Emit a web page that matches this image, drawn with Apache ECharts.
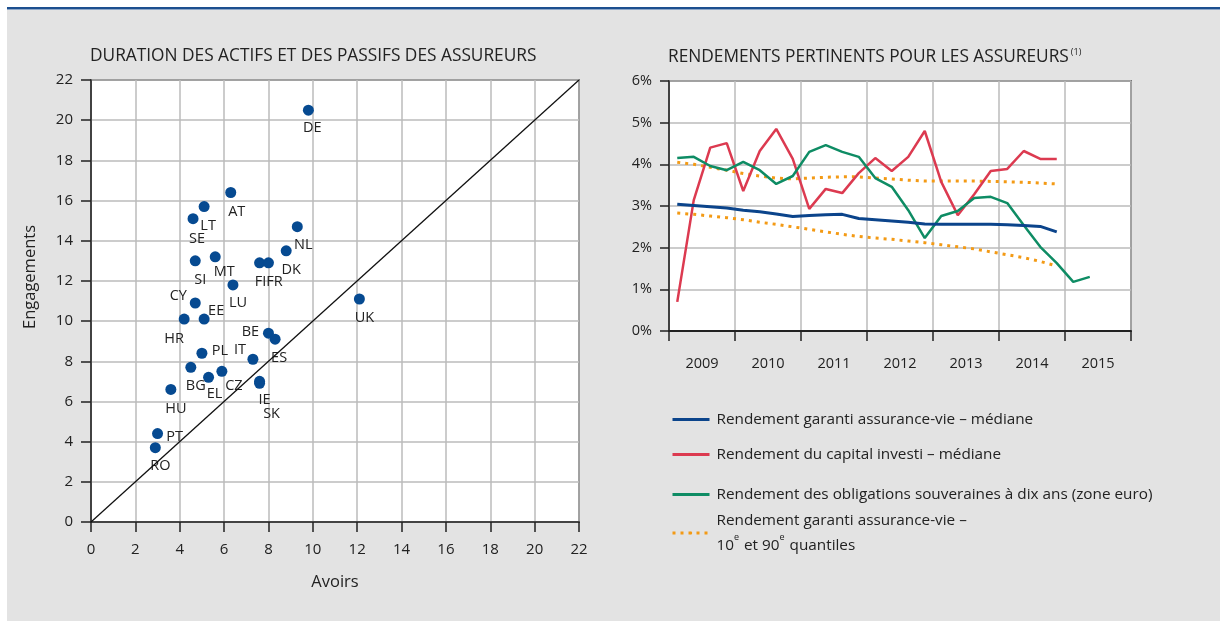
<!DOCTYPE html>
<html>
<head>
<meta charset="utf-8">
<script src="https://cdn.jsdelivr.net/npm/echarts@6/dist/echarts.min.js"></script>
<style>
	html, body { margin: 0; padding: 0; background: #fff; }
	#chart { width: 1220px; height: 628px; }
</style>
</head>
<body>
<div id="chart"></div>
<script>
// duration des actifs et passifs (gauche)
const countries = ['DE', 'AT', 'LT', 'SE', 'NL', 'DK', 'SI', 'MT', 'FI', 'FR', 'LU', 'CY', 'HR', 'EE', 'BE', 'ES', 'PL', 'IT', 'BG', 'CZ', 'EL', 'IE', 'SK', 'HU', 'PT', 'RO', 'UK']
const avoirs = [9.8, 6.3, 5.1, 4.6, 9.3, 8.8, 4.7, 5.6, 7.6, 8.0, 6.4, 4.7, 4.2, 5.1, 8.0, 8.3, 5.0, 7.3, 4.5, 5.9, 5.3, 7.6, 7.6, 3.6, 3.0, 2.9, 12.1]
const engagements = [20.5, 16.4, 15.7, 15.1, 14.7, 13.5, 13.0, 13.2, 12.9, 12.9, 11.8, 10.9, 10.1, 10.1, 9.4, 9.1, 8.4, 8.1, 7.7, 7.5, 7.2, 7.0, 6.9, 6.6, 4.4, 3.7, 11.1]
const scatterTicks = [0, 2, 4, 6, 8, 10, 12, 14, 16, 18, 20, 22]

// rendements (droite), données trimestrielles
const years = ['2009', '2010', '2011', '2012', '2013', '2014', '2015']
const quarters = []
years.forEach(y => ['T1', 'T2', 'T3', 'T4'].forEach(q => quarters.push(y + ' ' + q)))
const garantiMediane = [3.04, 3.01, 2.98, 2.95, 2.90, 2.86, 2.81, 2.75, 2.77, 2.79, 2.80, 2.70, 2.67, 2.64, 2.61, 2.57, 2.56, 2.56, 2.56, 2.56, 2.55, 2.53, 2.51, 2.38]
const capitalInvesti = [0.70, 3.14, 4.40, 4.51, 3.36, 4.32, 4.85, 4.13, 2.93, 3.41, 3.31, 3.79, 4.15, 3.84, 4.18, 4.80, 3.58, 2.78, 3.28, 3.84, 3.89, 4.32, 4.13, 4.13]
const obligations = [4.15, 4.18, 3.96, 3.86, 4.06, 3.86, 3.53, 3.72, 4.30, 4.46, 4.30, 4.18, 3.67, 3.46, 2.90, 2.23, 2.76, 2.88, 3.19, 3.22, 3.07, 2.54, 2.02, 1.63, 1.18, 1.30]
const quantile90 = [4.05, 4.00, 3.93, 3.86, 3.78, 3.72, 3.67, 3.65, 3.67, 3.69, 3.70, 3.70, 3.67, 3.65, 3.62, 3.60, 3.60, 3.60, 3.60, 3.59, 3.58, 3.57, 3.55, 3.53]
const quantile10 = [2.83, 2.80, 2.76, 2.72, 2.67, 2.61, 2.56, 2.50, 2.44, 2.38, 2.32, 2.27, 2.23, 2.20, 2.16, 2.12, 2.07, 2.02, 1.97, 1.90, 1.83, 1.76, 1.67, 1.56]

// décalage des étiquettes pays (px)
const labelOffsets = {
	DE: [4, 18], AT: [6, 19], LT: [4, 19], SE: [4, 20], NL: [6, 18], DK: [5, 19],
	SI: [5, 19], MT: [9, 15], FI: [1, 19], FR: [6, 19], LU: [5, 18], CY: [-17, -7],
	HR: [-10, 20], EE: [12, -8], BE: [-18, -1], ES: [4, 19], PL: [18, -2], IT: [-13, -9],
	BG: [5, 19], CZ: [12, 15], EL: [6, 17], IE: [5, 19], SK: [12, 31], HU: [5, 19],
	PT: [17, 3], RO: [5, 18], UK: [5, 19],
}

const FONT = "'Open Sans', sans-serif"
const TXT = '#222'
const GRID_LINE = { show: true, lineStyle: { color: '#bbb', width: 1.5 } }

const NAMES = {
	garanti: 'Rendement garanti assurance-vie – médiane',
	capital: 'Rendement du capital investi – médiane',
	oblig: 'Rendement des obligations souveraines à dix ans (zone euro)',
	quant: 'quantiles',
}

const chart = echarts.init(document.getElementById('chart'))

const scatterData = countries.map((c, i) => ({
	name: c,
	value: [avoirs[i], engagements[i]],
	label: { offset: labelOffsets[c] },
}))

function legendAt(name, top, formatter) {
	return {
		data: [name],
		left: 666,
		top: top,
		orient: 'vertical',
		itemWidth: 37,
		itemHeight: 3,
		selectedMode: false,
		lineStyle: { width: 3 },
		textStyle: {
			fontFamily: FONT, fontSize: 15.3, color: TXT, padding: [0, 0, 0, 2],
			lineHeight: 25,
			rich: { sup: { fontSize: 9, verticalAlign: 'top', padding: [0, 1, 5, 0], lineHeight: 14, fontFamily: FONT, color: TXT } },
		},
		formatter: formatter || (n => n),
	}
}

const option = {
	backgroundColor: '#fff',
	animation: false,
	graphic: [
		{ type: 'rect', shape: { x: 7, y: 10, width: 1213, height: 611 }, style: { fill: '#e3e3e3' }, z: -10 },
		{ type: 'rect', shape: { x: 7, y: 7, width: 1213, height: 2.5 }, style: { fill: '#1c4f8f' }, z: -9 },
		{ type: 'text', x: 335, y: 582, style: { text: 'Avoirs', font: '16.5px ' + FONT, fill: TXT, align: 'center', verticalAlign: 'middle' } },
		{ type: 'text', x: 30, y: 277, rotation: Math.PI / 2, style: { text: 'Engagements', font: '16.5px ' + FONT, fill: TXT, align: 'center', verticalAlign: 'middle' } },
	],
	title: [
		{
			text: 'DURATION DES ACTIFS ET DES PASSIFS DES ASSUREURS',
			left: 90, top: 48, padding: 0,
			textStyle: { fontFamily: FONT, fontSize: 17.3, fontWeight: 'normal', color: TXT },
		},
		{
			text: 'RENDEMENTS PERTINENTS POUR LES ASSUREURS{sup|(1)}',
			left: 668, top: 48, padding: 0,
			textStyle: {
				fontFamily: FONT, fontSize: 17.3, fontWeight: 'normal', color: TXT,
				rich: { sup: { fontSize: 9, verticalAlign: 'top', padding: [0, 0, 10, 2], fontFamily: FONT, color: TXT } },
			},
		},
	],
	legend: [
		legendAt(NAMES.garanti, 402),
		legendAt(NAMES.capital, 437),
		legendAt(NAMES.oblig, 477),
		legendAt(NAMES.quant, 503, () => 'Rendement garanti assurance-vie –\n10{sup|e} et 90{sup|e} quantiles'),
	],
	grid: [
		{ left: 91, top: 80, width: 488, height: 442, show: true, backgroundColor: '#fff', borderColor: '#222', borderWidth: 1.5 },
		{ left: 669, top: 81, width: 462, height: 250, show: true, backgroundColor: '#fff', borderColor: '#222', borderWidth: 1.5 },
	],
	xAxis: [
		{
			gridIndex: 0, type: 'value', min: 0, max: 22, interval: 2,
			axisLine: { show: true, lineStyle: { color: '#444', width: 2 } },
			axisTick: { show: true, length: 10, lineStyle: { color: '#222', width: 1.5 } },
			axisLabel: { margin: 20, fontFamily: FONT, fontSize: 15, color: TXT },
			splitLine: GRID_LINE,
		},
		{
			gridIndex: 1, type: 'category', data: quarters, boundaryGap: true,
			axisLine: { show: true, lineStyle: { color: '#222', width: 2 } },
			axisTick: { show: false },
			axisLabel: { show: false },
			splitLine: { show: true, interval: (i) => i % 4 === 0, lineStyle: { color: '#bbb', width: 1.5 } },
		},
		{
			gridIndex: 1, type: 'category', data: years, boundaryGap: true, position: 'bottom',
			axisLine: { show: false },
			axisTick: { show: true, length: 10, lineStyle: { color: '#222', width: 1.5 } },
			axisLabel: { margin: 25, fontFamily: FONT, fontSize: 14.5, color: TXT },
			splitLine: { show: false },
		},
	],
	yAxis: [
		{
			gridIndex: 0, type: 'value', min: 0, max: 22, interval: 2,
			axisLine: { show: true, lineStyle: { color: '#222', width: 1.5 } },
			axisTick: { show: true, length: 10, lineStyle: { color: '#222', width: 1.5 } },
			axisLabel: { margin: 18, fontFamily: FONT, fontSize: 15, color: TXT },
			splitLine: GRID_LINE,
		},
		{
			gridIndex: 1, type: 'value', min: 0, max: 6, interval: 1,
			axisLine: { show: true, lineStyle: { color: '#222', width: 1.5 } },
			axisTick: { show: true, length: 9, lineStyle: { color: '#222', width: 1.5 } },
			axisLabel: { margin: 17, fontFamily: FONT, fontSize: 14.5, color: TXT, formatter: '{value}%' },
			splitLine: GRID_LINE,
		},
	],
	series: [
		{
			type: 'line', xAxisIndex: 0, yAxisIndex: 0,
			data: [[scatterTicks[0], scatterTicks[0]], [scatterTicks[scatterTicks.length - 1], scatterTicks[scatterTicks.length - 1]]],
			showSymbol: false, symbol: 'none', silent: true,
			lineStyle: { color: '#111', width: 1.3 },
		},
		{
			type: 'scatter', xAxisIndex: 0, yAxisIndex: 0,
			data: scatterData,
			symbolSize: 11,
			itemStyle: { color: '#064a91', opacity: 1 },
			label: {
				show: true, position: 'inside', formatter: '{b}',
				fontFamily: FONT, fontSize: 14.5, color: '#222',
			},
		},
		{
			name: NAMES.garanti, type: 'line', xAxisIndex: 1, yAxisIndex: 1,
			data: garantiMediane, symbol: 'none', z: 5,
			lineStyle: { color: '#0b448b', width: 3 }, itemStyle: { color: '#0b448b' },
		},
		{
			name: NAMES.capital, type: 'line', xAxisIndex: 1, yAxisIndex: 1,
			data: capitalInvesti, symbol: 'none', z: 3,
			lineStyle: { color: '#dc3a50', width: 2.5 }, itemStyle: { color: '#dc3a50' },
		},
		{
			name: NAMES.oblig, type: 'line', xAxisIndex: 1, yAxisIndex: 1,
			data: obligations, symbol: 'none', z: 4,
			lineStyle: { color: '#0e8c64', width: 2.5 }, itemStyle: { color: '#0e8c64' },
		},
		{
			name: NAMES.quant, type: 'line', xAxisIndex: 1, yAxisIndex: 1,
			data: quantile90, symbol: 'none', z: 2,
			lineStyle: { color: '#f39a15', width: 3, type: [3, 5] }, itemStyle: { color: '#f39a15' },
		},
		{
			name: NAMES.quant, type: 'line', xAxisIndex: 1, yAxisIndex: 1,
			data: quantile10, symbol: 'none', z: 2,
			lineStyle: { color: '#f39a15', width: 3, type: [3, 5] }, itemStyle: { color: '#f39a15' },
		},
	],
}

chart.setOption(option)
</script>
</body>
</html>
